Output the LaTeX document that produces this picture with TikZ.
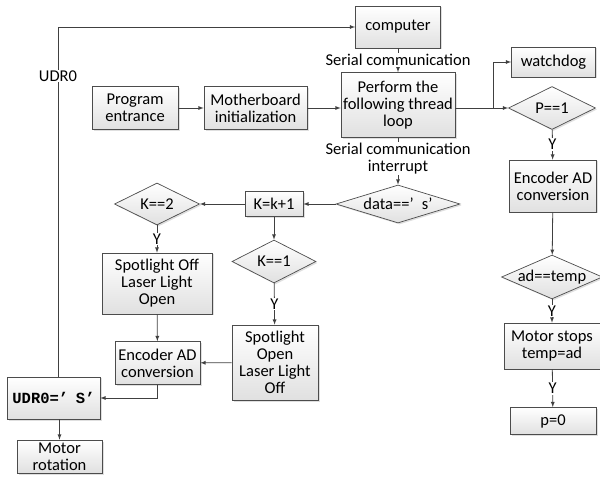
\documentclass[tikz,border=0pt]{standalone}
\usepackage{fontspec}
\setmainfont{Carlito}
\setmonofont{Liberation Mono}
\usepackage{tikz}
\usetikzlibrary{calc, shapes.geometric, shadows}

\begin{document}
\begin{tikzpicture}[>=latex, x=1pt, y=-1pt,
    every node/.style={font=\fontsize{16.5}{17}\selectfont},
    line/.style={draw=black!75, line width=0.8pt},
    box/.style={draw=black!70, line width=0.7pt, align=center, inner sep=1pt,
        top color=white, bottom color=black!12,
        drop shadow={opacity=0.25, shadow xshift=1.5pt, shadow yshift=-1.5pt}},
    cond/.style={box, diamond, aspect=2, inner sep=0pt},
    lab/.style={fill=white, inner sep=1pt, align=center}]
    \useasboundingbox (0,0) rectangle (600,486);

    % Hauptlinie
    \node[box, minimum width=86pt, minimum height=43pt] (pe) at (135,108) {Program\\entrance};
    \node[box, minimum width=103pt, minimum height=43pt] (mb) at (255.5,108) {Motherboard\\initialization};
    \node[box, minimum width=114pt, minimum height=65pt] (loop) at (398,105) {Perform the\\following thread\\loop};
    \node[box, minimum width=85pt, minimum height=42pt] (comp) at (398,27) {computer};
    \node[box, minimum width=84pt, minimum height=30pt] (wd) at (553.5,62) {watchdog};

    % rechter Zweig
    \node[cond, minimum width=87pt, minimum height=43pt] (p1) at (552,108) {P==1};
    \node[box, minimum width=87pt, minimum height=52pt] (enc1) at (553,186) {Encoder AD\\conversion};
    \node[cond, aspect=2.3, minimum width=95pt, minimum height=41pt] (adt) at (552,277) {ad==temp};
    \node[box, minimum width=96pt, minimum height=46pt] (ms) at (552,346) {Motor stops\\temp=ad};
    \node[box, minimum width=86pt, minimum height=27pt] (p0) at (553,421) {p=0};

    % linker Zweig
    \node[cond, aspect=3, minimum width=124pt, minimum height=38pt] (data) at (398,204) {data==’\enspace s’};
    \node[box, minimum width=58pt, minimum height=25pt] (kk) at (274,204) {K=k+1};
    \node[cond, minimum width=85pt, minimum height=42pt] (k2) at (157,204) {K==2};
    \node[cond, minimum width=84pt, minimum height=43pt] (k1) at (274,261.5) {K==1};
    \node[box, minimum width=110pt, minimum height=61pt] (soff) at (157,283.5) {Spotlight Off\\Laser Light\\Open};
    \node[box, minimum width=86pt, minimum height=75pt] (sopen) at (275,362.5) {Spotlight\\Open\\Laser Light\\Off};
    \node[box, minimum width=85pt, minimum height=43pt] (enc2) at (157.5,363) {Encoder AD\\conversion};
    \node[box, minimum width=93pt, minimum height=42pt, font=\fontsize{15.5}{17}\selectfont\ttfamily\bfseries] (udr) at (53.5,398) {UDR0=’\enspace S’};
    \node[box, minimum width=85pt, minimum height=33pt] (mr) at (59.5,456.5) {Motor\\rotation};

    \coordinate (br) at (493,108);
    \coordinate (tl) at (58,27);

    % Verbindungen
    \draw[line, ->] (pe) -- (mb);
    \draw[line, ->] (mb) -- (loop.west |- mb);
    \draw[line, ->] (comp) -- node[lab] {Serial communication} (loop);
    \draw[line] (loop.east |- br) -- (br);
    \draw[line, ->] (br) |- (wd);
    \draw[line, ->] (br) -- (p1);
    \draw[line, ->] (p1) -- node[lab] {Y} (enc1);
    \draw[line, ->] (enc1) -- (adt);
    \draw[line, ->] (adt) -- node[lab] {Y} (ms);
    \draw[line, ->] (ms) -- node[lab] {Y} (p0);
    \draw[line, ->] (loop) -- node[lab, pos=0.45] {Serial communication\\interrupt} (data);
    \draw[line, ->] (data) -- (kk);
    \draw[line, ->] (kk) -- (k2);
    \draw[line, ->] (kk) -- (k1);
    \draw[line, ->] (k2) -- node[lab] {Y} (soff);
    \draw[line, ->] (k1) -- node[lab] {Y} (sopen);
    \draw[line, ->] (soff) -- (enc2);
    \draw[line, ->] (sopen) -- (enc2);
    \draw[line, ->] (enc2) |- (udr);
    \draw[line, ->] (udr.south -| mr) -- (mr);
    \draw[line, ->] (udr.north -| tl) -- node[lab, pos=0.86] {UDR0} (tl) -- (comp);
\end{tikzpicture}
\end{document}
